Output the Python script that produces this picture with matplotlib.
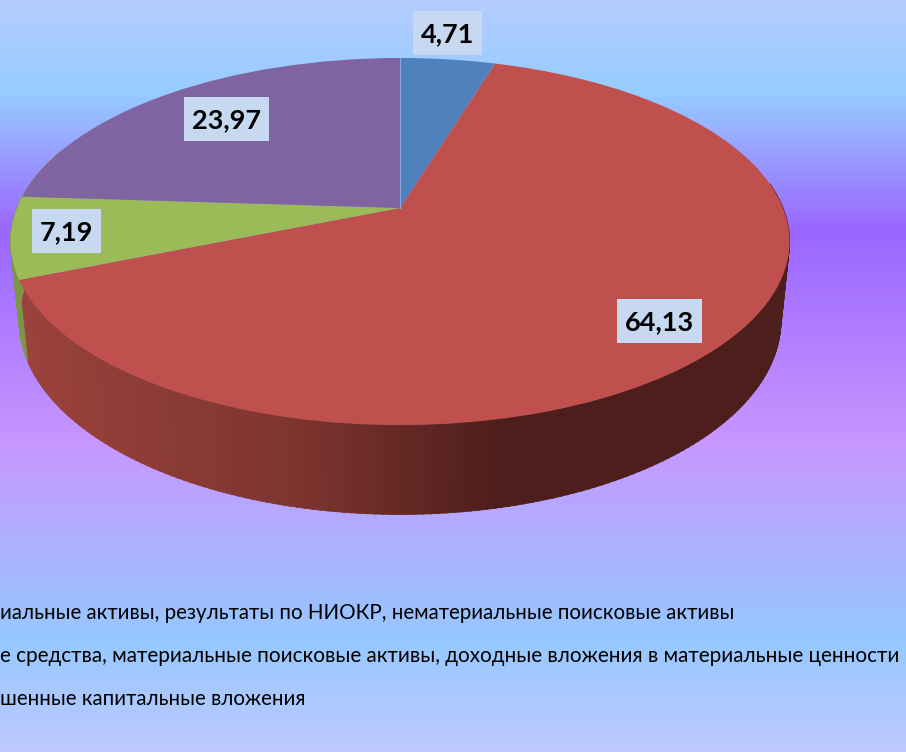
import numpy as np
import matplotlib
matplotlib.use('Agg')
import matplotlib.pyplot as plt
from matplotlib.colors import LinearSegmentedColormap
from matplotlib.patches import Rectangle
from matplotlib.transforms import Transform

plt.rcParams['font.family'] = ['Lato', 'Open Sans', 'DejaVu Sans']

values = [4.71, 64.13, 7.19, 23.97]
labels = ['4,71', '64,13', '7,19', '23,97']
colors = ['#4F81BD', '#C0504D', '#9BBB59', '#8064A2']
# legend is cut by the left edge in the source picture
legend_lines = [
    'иальные активы, результаты по НИОКР, нематериальные поисковые активы',
    'е средства, материальные поисковые активы, доходные вложения в материальные ценности',
    'шенные капитальные вложения',
]

W, H = 906, 752
CX, CY = 400, 208
A, B, K = 383, 177.4, 0.1826


# tilted disc: unit circle to pixel coords, far side shrinks
def project(x, y, drop=0.0, m=0.0):
    w = 1 + K * y + m
    return CX + A * x / w, CY + (drop - B * y) / w


class Tilt(Transform):
    input_dims = 2
    output_dims = 2
    is_affine = False

    def transform_non_affine(self, xy):
        xy = np.asarray(xy, float)
        px, py = project(xy[:, 0], xy[:, 1])
        return np.column_stack([px, py])


fig = plt.figure(figsize=(W / 100, H / 100), dpi=100)
ax = fig.add_axes([0, 0, 1, 1])

# background
bg_stops = [(0, '#b4ccff'), (90 / H, '#96cdff'), (230 / H, '#9a66ff'),
            (440 / H, '#c896ff'), (640 / H, '#96c8ff'), (1, '#bccaff')]
bg = LinearSegmentedColormap.from_list('bg', bg_stops)
ax.imshow(np.linspace(0, 1, 400)[:, None], cmap=bg, aspect='auto',
          extent=(0, W, H, 0), zorder=0)

# side wall
edges = np.cumsum([0] + values) / sum(values) * 360
red_end = edges[2]
steps = np.arange(82, 290, 1.0)
for t in steps:
    tt = np.radians([t, t + 1.2])
    x, y = np.sin(tt), np.cos(tt)
    tx, ty = project(x, y)
    bx, by = project(x, y, drop=79.8, m=0.022)
    mid = tx.mean()
    if t >= red_end:
        c = (125 / 255, 150 / 255, 70 / 255)
    else:
        c = np.array([np.interp(mid, [20, 300, 500, 800], v)
                      for v in ([155, 125, 78, 76], [66, 52, 30, 30], [60, 47, 28, 28])]) / 255
    ax.fill([tx[0], tx[1], bx[1], bx[0]], [ty[0], ty[1], by[1], by[0]],
            color=c, lw=0.6, zorder=1)

# top face
wedges, _ = ax.pie(values, colors=colors, startangle=90, counterclock=False)
tilt = Tilt() + ax.transData
for w in wedges:
    w.set_transform(tilt)
    w.set_zorder(2)
    w.set_linewidth(0)

ax.set_aspect('auto')
ax.set_xlim(0, W)
ax.set_ylim(H, 0)
ax.axis('off')

ax.plot([CX, CX], [58, CY], color='#8aa6dc', lw=0.8, zorder=3)

label_boxes = [(413, 11, 69, 44), (617, 299, 85, 44), (32, 209, 69, 44), (184, 97, 85, 44)]
for txt, (bx0, by0, bw, bh) in zip(labels, label_boxes):
    ax.add_patch(Rectangle((bx0, by0), bw, bh, facecolor='#c6d9f0', edgecolor='none', zorder=4))
    ax.text(bx0 + bw / 2, by0 + bh / 2 + 1, txt, fontsize=19.5, fontweight='bold', color='black',
            ha='center', va='center', zorder=5)

legend_y = [613, 656, 699]
legend_size = [14.8, 14.9, 14.8]
for line, ye, fs in zip(legend_lines, legend_y, legend_size):
    ax.text(0, ye, line, fontsize=fs, color='black', ha='left', va='center', zorder=4)

fig.savefig('out.png', dpi=100)
